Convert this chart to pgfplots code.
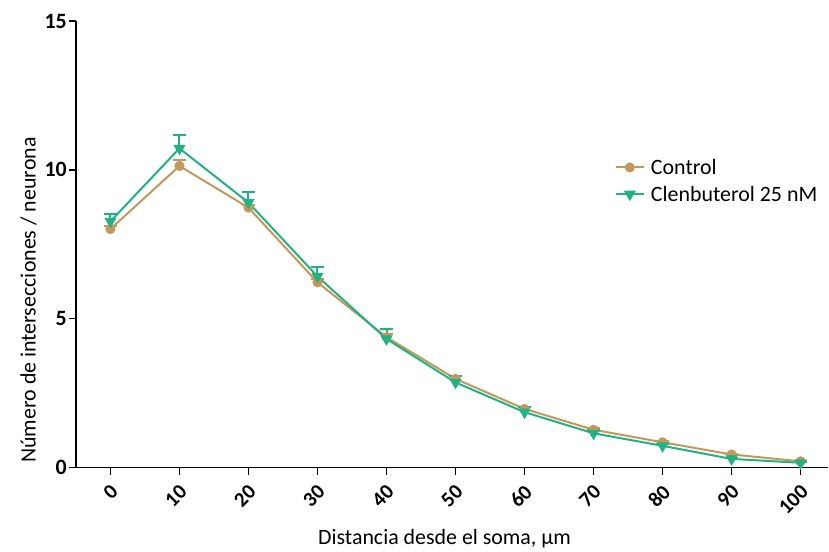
\documentclass[border=0pt]{standalone}
\usepackage{pgfplots}
\pgfplotsset{compat=1.18}
\usepackage{fontspec}
\setmainfont{Carlito}
\definecolor{ctrl}{RGB}{196,151,90}
\definecolor{clen}{RGB}{32,178,130}
\begin{document}
\begin{tikzpicture}
\begin{axis}[
  scale only axis,
  width=753bp, height=447bp,
  xmin=-5.0, xmax=104, ymin=0, ymax=15,
  axis x line*=bottom, axis y line*=left,
  axis line style={-, line width=1.6bp},
  xtick={0,10,...,100}, ytick={0,5,10,15},
  tick align=outside, major tick length=7bp,
  tick style={line width=1.4bp, black},
  /pgf/number format/assume math mode=true,
  xticklabel style={font=\fontsize{21}{23}\selectfont\bfseries, rotate=45, anchor=east, inner sep=1bp, xshift=-6bp, yshift=-12.7bp},
  yticklabel style={font=\fontsize{22}{24}\selectfont\bfseries, inner sep=2bp},
  xlabel={Distancia desde el soma, µm},
  ylabel={Número de intersecciones / neurona},
  label style={font=\fontsize{22}{24}\selectfont},
  xlabel style={at={(axis description cs:0.49,-0.16)}, anchor=center},
  ylabel style={at={(axis description cs:-0.063,0.375)}, anchor=center},
  legend style={draw=none, fill=none, font=\fontsize{22}{24}\selectfont, at={(axis cs:72.6,10.5)}, anchor=north west, row sep=6bp, nodes={inner xsep=6bp}},
  legend cell align=left,
  legend image code/.code={\draw[mark repeat=2,mark phase=2] plot coordinates {(0cm,0cm)(0.5cm,0cm)(1cm,0cm)};},
]
\addplot[ctrl, line width=2bp, mark=*, mark size=4bp,
  error bars/.cd, y dir=plus, y explicit, error bar style={line width=2bp, ctrl}, error mark options={rotate=90, mark size=6.5bp, line width=2bp, ctrl}]
  table[x=x, y=y, y error=e] {
x y e
0 8.01 0.12
10 10.13 0.2
20 8.73 0.1
30 6.22 0.1
40 4.38 0.1
50 2.98 0.08
60 1.97 0.06
70 1.27 0.05
80 0.85 0.04
90 0.44 0.03
100 0.21 0.02
};
\addlegendentry{Control}
\addplot[clen, line width=2bp, mark=triangle*, mark options={rotate=180}, mark size=5bp,
  error bars/.cd, y dir=plus, y explicit, error bar style={line width=2bp, clen}, error mark options={rotate=90, mark size=6.5bp, line width=2bp, clen}]
  table[x=x, y=y, y error=e] {
x y e
0 8.27 0.25
10 10.72 0.45
20 8.9 0.37
30 6.42 0.33
40 4.32 0.33
50 2.86 0.23
60 1.86 0.18
70 1.15 0.1
80 0.73 0.06
90 0.29 0.04
100 0.16 0.03
};
\addlegendentry{Clenbuterol 25 nM}
\end{axis}
\path (current axis.south west) ++(-76bp,-84bp) rectangle ++(829bp,552bp);
\end{tikzpicture}
\end{document}
